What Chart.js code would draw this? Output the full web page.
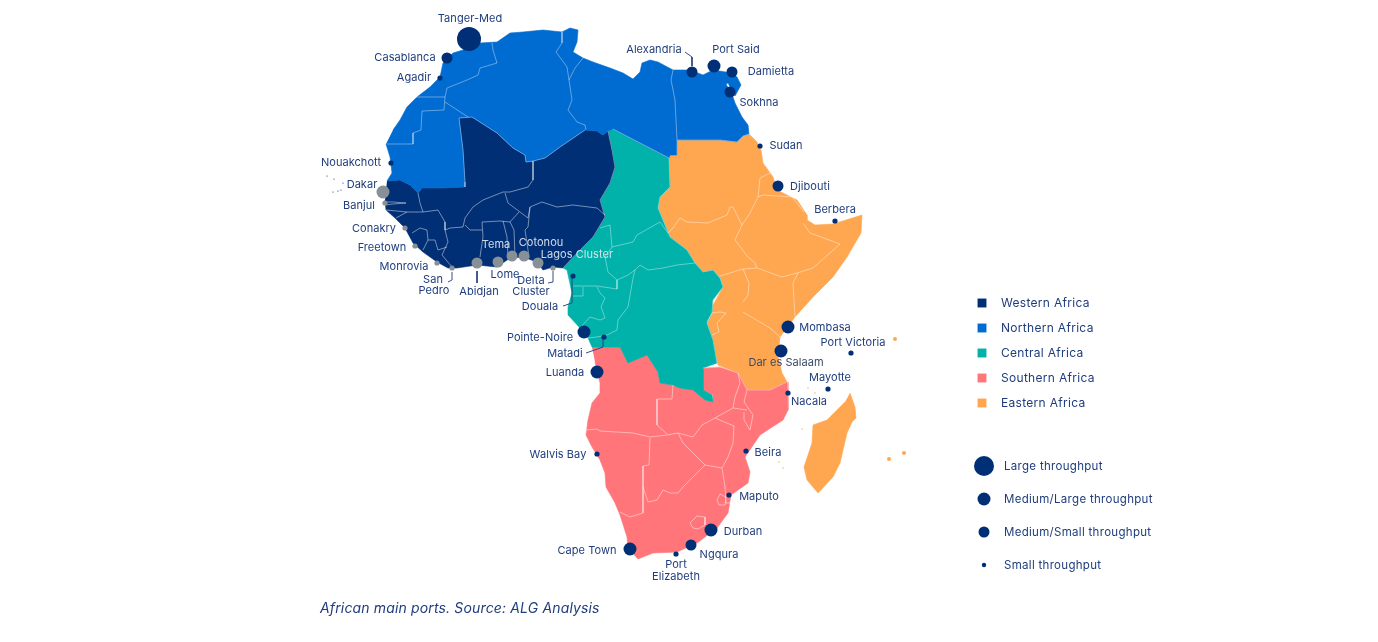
<!DOCTYPE html>
<html>
<head>
<meta charset="utf-8">
<title>African main ports</title>
<script src="https://cdn.jsdelivr.net/npm/chart.js@4"></script>
<style>
html, body { margin: 0; padding: 0; background: #fff; overflow: hidden; }
#wrap { position: relative; width: 1378px; height: 642px; }
</style>
</head>
<body>
<div id="wrap"><canvas id="map"></canvas></div>
<script>
// Region outlines as [x, y] on the map axes
const northern = [[386,144],[390,157],[392,173],[387,181],[400,180],[410,185],[418,193],[422,188],[437,188],[465,187],[465,182],[463,150],[459,118],[472,117],[497,133],[513,148],[525,155],[526,162],[533,161],[545,158],[560,147],[585,130],[597,131],[603,135],[608,131],[613,129],[669,158],[670,155],[677,155],[677,140],[720,140],[737,142],[743,136],[749,134],[748,125],[742,117],[735,103],[733,97],[726,84],[728,83],[735,96],[741,85],[737,77],[732,73],[713,70],[703,75],[690,70],[673,70],[658,62],[650,60],[642,63],[640,72],[633,79],[623,73],[610,68],[593,62],[583,58],[573,52],[577,42],[578,30],[570,28],[562,32],[543,30],[523,32],[510,33],[497,42],[480,43],[463,50],[453,53],[443,63],[440,77],[430,87],[417,97],[407,107],[400,120],[393,130]];
const western = [[387,181],[400,180],[410,185],[418,193],[422,188],[437,188],[465,187],[465,182],[463,150],[459,118],[472,117],[497,133],[513,148],[525,155],[526,162],[533,161],[545,158],[560,147],[585,130],[597,131],[603,135],[608,131],[612,150],[615,167],[610,183],[600,200],[605,217],[593,237],[577,253],[563,268],[553,267],[543,270],[537,262],[523,257],[510,258],[497,267],[477,265],[457,268],[448,268],[437,262],[423,252],[413,243],[405,228],[395,218],[386,210],[385,200]];
const central = [[608,131],[613,129],[669,158],[670,187],[660,197],[658,208],[663,220],[670,237],[687,250],[695,263],[703,272],[713,270],[720,278],[723,287],[713,300],[712,313],[707,323],[713,340],[717,363],[703,368],[703,390],[712,395],[713,402],[705,400],[693,390],[680,388],[673,385],[660,383],[658,372],[647,355],[640,358],[628,363],[620,347],[592,347],[588,338],[580,328],[568,315],[568,307],[572,293],[567,270],[563,268],[577,253],[593,237],[605,217],[600,200],[610,183],[615,167],[612,150]];
const southern = [[592,347],[620,347],[628,363],[640,358],[647,355],[658,372],[660,383],[673,385],[680,388],[693,390],[705,400],[713,402],[713,395],[703,390],[703,368],[720,367],[738,373],[747,390],[770,390],[787,382],[788,410],[783,420],[760,435],[745,457],[750,472],[748,483],[731,495],[728,513],[717,528],[697,543],[677,552],[653,553],[638,559],[628,548],[627,537],[620,515],[615,503],[606,487],[605,473],[600,460],[592,447],[586,435],[588,420],[592,403],[600,393],[600,383],[595,362]];
const eastern = [[677,155],[677,140],[720,140],[737,142],[743,136],[749,134],[757,142],[761,150],[763,163],[773,177],[777,190],[797,200],[807,215],[807,220],[815,225],[833,224],[862,215],[861,233],[847,257],[833,277],[813,297],[795,317],[780,337],[778,357],[782,373],[787,382],[770,390],[747,390],[738,373],[718,365],[710,333],[707,322],[712,307],[723,287],[720,277],[712,270],[703,272],[695,263],[687,250],[670,237],[663,220],[658,208],[660,197],[670,187],[669,158],[670,155]];
const madagascar = [[850,393],[855,407],[856,418],[852,422],[847,433],[840,463],[833,477],[818,493],[807,480],[804,467],[812,443],[813,425],[827,420],[837,410],[845,402]];
const lakeVictoria = [[727,308],[733,302],[743,302],[748,305],[743,310],[742,322],[732,322],[727,317]];

// Country borders inside each region
const northBorders = [
  [[492,43],[493,50],[497,63],[480,68],[478,75],[467,80],[447,88],[445,97]],
  [[416,97],[445,97],[444,110],[422,111],[421,130],[413,133],[413,144],[387,144]],
  [[445,102],[468,117]],
  [[562,32],[562,43],[556,52],[567,67],[569,80],[572,100],[568,110],[577,122],[585,125],[586,130]],
  [[569,80],[575,68],[583,58]],
  [[673,70],[671,80],[675,100],[677,140]]
];
const westBorders = [
  [[533,161],[533,180],[528,187],[510,192],[503,192],[483,200],[473,207],[465,218],[463,227],[450,228],[445,230]],
  [[418,193],[420,203],[423,212],[438,210],[445,222],[445,230],[448,242],[442,255],[452,267]],
  [[386,210],[407,212],[423,212]],
  [[385,202],[393,202],[406,203],[393,204],[385,205]],
  [[396,218],[407,212]],
  [[412,233],[420,228],[427,230],[428,240],[423,250]],
  [[428,240],[435,240],[438,250],[447,247]],
  [[505,193],[508,203],[520,212],[528,218],[530,207],[542,202],[557,207],[573,205],[597,208],[605,215]],
  [[482,222],[500,221],[510,222],[519,212]],
  [[530,207],[528,227],[525,230],[528,250],[529,258]],
  [[510,222],[514,230],[515,258]],
  [[503,221],[507,237],[508,258]],
  [[482,222],[483,237],[480,257]],
  [[482,230],[470,230],[465,225]]
];
const centralBorders = [
  [[600,228],[610,225],[612,247],[633,242],[637,235],[660,222],[668,233]],
  [[612,247],[605,257],[608,272],[617,280],[617,289]],
  [[617,280],[628,275],[635,270],[640,265],[648,270],[663,268],[677,265],[695,263]],
  [[635,270],[633,278],[628,307],[618,320],[617,330],[607,335],[597,337],[588,338]],
  [[573,286],[597,286],[617,289]],
  [[573,296],[583,296],[583,287]],
  [[597,287],[600,293],[605,298],[601,307],[605,318],[600,320],[590,317],[580,328]]
];
const southBorders = [
  [[586,430],[597,429],[600,431],[633,433],[650,437],[667,435],[678,433]],
  [[673,385],[672,399],[657,399],[657,425],[667,434]],
  [[650,438],[649,465],[643,466],[643,513],[630,517],[620,512]],
  [[678,433],[693,437],[702,425],[715,418],[733,408],[747,410]],
  [[738,373],[740,383],[735,397],[733,408]],
  [[747,390],[744,402],[753,415],[750,430],[744,420],[744,412]],
  [[678,433],[683,443],[695,455],[705,465],[722,468],[728,457],[733,443],[734,426],[715,418]],
  [[705,465],[693,477],[683,487],[678,493],[670,493],[663,490],[657,500],[648,502],[643,487]],
  [[722,468],[725,487],[726,503],[732,503]],
  [[717,500],[720,494],[726,497],[725,505],[719,505],[717,500]],
  [[690,523],[697,516],[705,517],[705,525],[698,529],[693,528],[690,523]]
];
const eastBorders = [
  [[772,172],[760,178],[758,197],[763,195],[792,197],[804,212]],
  [[758,197],[750,213],[742,225],[735,240],[748,257],[755,263],[757,268]],
  [[668,233],[673,228],[680,218],[687,222],[708,223],[727,215],[730,207],[733,207],[742,225]],
  [[720,276],[743,269],[749,283],[748,295],[743,302]],
  [[743,269],[757,268],[782,277],[797,273],[813,268],[840,244],[810,233],[803,223]],
  [[798,273],[793,283],[795,317]],
  [[743,312],[770,328],[780,337]],
  [[707,322],[712,313],[720,312],[726,313],[717,323],[719,332],[712,335]]
];
// region borders that show up as pale seams
const regionSeams = [
  [[608,131],[612,150],[615,167],[610,183],[600,200],[605,217],[593,237],[577,253],[563,268]],
  [[613,129],[669,158],[670,187],[660,197],[658,208],[663,220],[670,237],[687,250],[695,263],[703,272],[713,270],[720,278],[723,287],[713,300],[712,313],[707,323],[713,340],[717,363]],
  [[585,130],[560,147],[545,158],[533,161],[526,162],[525,155],[513,148],[497,133],[472,117],[459,118],[463,150],[465,182],[465,187]],
  [[677,155],[677,140],[720,140],[737,142],[743,136],[749,134]],
  [[703,368],[720,367],[738,373],[747,390],[770,390],[787,382]]
];
const leaderLines = [
  [[685,52],[692,57],[692,66]],
  [[448,282],[452,280],[452,272]],
  [[477,271],[477,283]],
  [[548,283],[553,282],[553,271]],
  [[563,306],[572,303],[572,278]],
  [[586,353],[603,347],[603,339]]
];
const largeIslets = [[895,339],[889,459],[904,453]];
const tinyIslets = [[808,388],[815,393],[802,429],[779,462],[783,468]];
const capeVerde = [[327,176],[334,179],[343,183],[333,192],[338,191],[341,190]];

// Ports: name, position and throughput class (0 large ... 3 small)
const navyPorts = ['Tanger-Med','Casablanca','Agadir','Nouakchott','Douala','Pointe-Noire','Matadi','Luanda','Walvis Bay','Cape Town','Port Elizabeth','Ngqura','Durban','Maputo','Beira','Nacala','Mayotte','Port Victoria','Dar es Salaam','Mombasa','Berbera','Djibouti','Sudan','Sokhna','Damietta','Port Said','Alexandria'];
const navyX = [469,447,440,391,573,584,604,597,597,630,676,691,711,729,746,788,828,851,781,788,835,778,760,730,732,714,692];
const navyY = [39,58,78,163,276,332,337,372,454,549,554,545,530,495,451,393,389,353,351,327,221,186,146,92,72,66,72];
const navyClass = [0,2,3,3,3,1,3,1,3,1,3,2,1,3,3,3,3,3,1,1,3,2,3,2,2,1,2];
const grayPorts = ['Dakar','Banjul','Conakry','Freetown','Monrovia','San Pedro','Abidjan','Lome','Tema','Cotonou','Lagos Cluster','Delta Cluster'];
const grayX = [383,385,405,415,437,452,477,498,512,524,538,553];
const grayY = [192,203,228,246,263,268,263,262,256,256,263,268];
const grayClass = [1,3,3,3,3,3,2,2,2,2,2,3];
const classRadius = [12,6.5,5.5,2.6];

// Text labels
const labelTexts = ['Tanger-Med','Casablanca','Agadir','Nouakchott','Dakar','Banjul','Conakry','Freetown','Monrovia','San','Pedro','Abidjan','Lome','Delta','Cluster','Douala','Pointe-Noire','Matadi','Luanda','Walvis Bay','Cape Town','Port','Elizabeth','Ngqura','Durban','Maputo','Beira','Nacala','Mayotte','Port Victoria','Mombasa','Berbera','Djibouti','Sudan','Sokhna','Damietta','Port Said','Alexandria'];
const labelX = [470,405,414,351,362,359,374,382,404,433,434,479,505,531,531,540,540,565,565,558,587,676,676,719,743,759,768,809,830,853,825,835,810,786,759,771,736,654];
const labelY = [18,57,77,162,184,205,228,247,266,279,290,291,274,280,291,306,337,353,372,454,550,564,576,554,531,496,452,401,377,342,327,209,186,145,102,71,49,49];
const paleTexts = ['Tema','Cotonou','Lagos Cluster'];
const paleX = [496,541,577];
const paleY = [244,242,254];
const regionNames = ['Western Africa','Northern Africa','Central Africa','Southern Africa','Eastern Africa'];
const regionColors = ['#002f75','#006bd0','#00b2a9','#ff7579','#ffa750'];
const regionKeyY = [302,327,352,377,402];
const throughputNames = ['Large throughput','Medium/Large throughput','Medium/Small throughput','Small throughput'];
const throughputKeyY = [466,499,532,565];
const caption = 'African main ports. Source: ALG Analysis';

const NAVY = '#002f75';
const GRAY = '#878f97';
const TEXT = '#1f3d7c';
const toXY = pairs => pairs.map(p => ({ x: p[0], y: p[1] }));

function area(pairs, color) {
    return {
        type: 'scatter', showLine: true, data: toXY(pairs),
        fill: 'shape', backgroundColor: color,
        borderColor: color, borderWidth: 0.6, pointRadius: 0, tension: 0, order: 10
    };
}
function borders(lists, alpha, order) {
    return lists.map(l => ({
        type: 'scatter', showLine: true, data: toXY(l), fill: false,
        borderColor: 'rgba(255,255,255,' + alpha + ')', borderWidth: 0.7,
        pointRadius: 0, tension: 0, order: order
    }));
}
function bubbles(xs, ys, classes, color) {
    return {
        type: 'bubble', backgroundColor: color, borderWidth: 0, order: 1,
        data: xs.map((x, i) => ({ x: x, y: ys[i], r: classRadius[classes[i]] }))
    };
}

// Draws all the map text at axis positions
const textPlugin = {
    id: 'mapText',
    afterDatasetsDraw(chart) {
        const { ctx, scales: { x, y } } = chart;
        const put = (t, px, py, color, font, align, spacing) => {
            ctx.font = font;
            ctx.fillStyle = color;
            ctx.textAlign = align;
            ctx.textBaseline = 'middle';
            ctx.letterSpacing = spacing;
            ctx.fillText(t, x.getPixelForValue(px), y.getPixelForValue(py) + 1);
        };
        ctx.save();
        const small = '11px Inter';
        labelTexts.forEach((t, i) => put(t, labelX[i], labelY[i], TEXT, small, 'center', '0.05px'));
        paleTexts.forEach((t, i) => put(t, paleX[i], paleY[i], 'rgba(226,231,240,0.92)', small, 'center', '0.05px'));
        put('Dar es Salaam', 786, 362, '#3b4a68', small, 'center', '0.05px');
        regionNames.forEach((t, i) => put(t, 1001, regionKeyY[i], TEXT, '12px Inter', 'left', '0.3px'));
        throughputNames.forEach((t, i) => put(t, 1004, throughputKeyY[i], TEXT, '11.5px Inter', 'left', '0.3px'));
        put(caption, 320, 608, TEXT, 'italic 14px Inter', 'left', '0.15px');
        ctx.restore();
    }
};

new Chart(document.getElementById('map'), {
    type: 'scatter',
    data: {
        datasets: [
            area(northern, regionColors[1]),
            area(western, regionColors[0]),
            area(central, regionColors[2]),
            area(southern, regionColors[3]),
            area(eastern, regionColors[4]),
            area(madagascar, regionColors[4]),
            area(lakeVictoria, '#f0f0f0'),
            ...borders(northBorders, 0.55, 8),
            ...borders(westBorders, 0.65, 8),
            ...borders(centralBorders, 0.55, 8),
            ...borders(southBorders, 0.65, 8),
            ...borders(eastBorders, 0.6, 8),
            ...borders(regionSeams, 0.5, 8),
            ...leaderLines.map(l => ({
                type: 'scatter', showLine: true, data: toXY(l), fill: false,
                borderColor: TEXT, borderWidth: 0.9, pointRadius: 0, tension: 0, order: 3
            })),
            {
                type: 'scatter', data: toXY(largeIslets), backgroundColor: regionColors[4],
                pointRadius: 2, borderWidth: 0, order: 9
            },
            {
                type: 'scatter', data: toXY(tinyIslets), backgroundColor: regionColors[4],
                pointRadius: 0.7, borderWidth: 0, order: 9
            },
            {
                type: 'scatter', data: toXY(capeVerde), backgroundColor: NAVY,
                pointRadius: 0.6, borderWidth: 0, order: 9
            },
            bubbles(navyX, navyY, navyClass, NAVY),
            bubbles(grayX, grayY, grayClass, GRAY),
            {
                type: 'scatter', data: regionKeyY.map(v => ({ x: 982, y: v + 1 })),
                pointStyle: 'rect', pointRadius: 6.3, borderWidth: 0,
                backgroundColor: regionColors, order: 1
            },
            {
                type: 'bubble', backgroundColor: NAVY, borderWidth: 0, order: 1,
                data: throughputKeyY.map((v, i) => ({ x: 984, y: v, r: [10, 6.5, 5.5, 2.2][i] }))
            }
        ]
    },
    options: {
        responsive: true,
        maintainAspectRatio: false,
        animation: false,
        events: [],
        layout: { padding: 0, autoPadding: false },
        plugins: { legend: { display: false }, tooltip: { enabled: false } },
        scales: {
            x: { type: 'linear', min: 0, max: 1378, display: false },
            y: { type: 'linear', min: 0, max: 642, reverse: true, display: false }
        }
    },
    plugins: [textPlugin]
});
</script>
</body>
</html>
